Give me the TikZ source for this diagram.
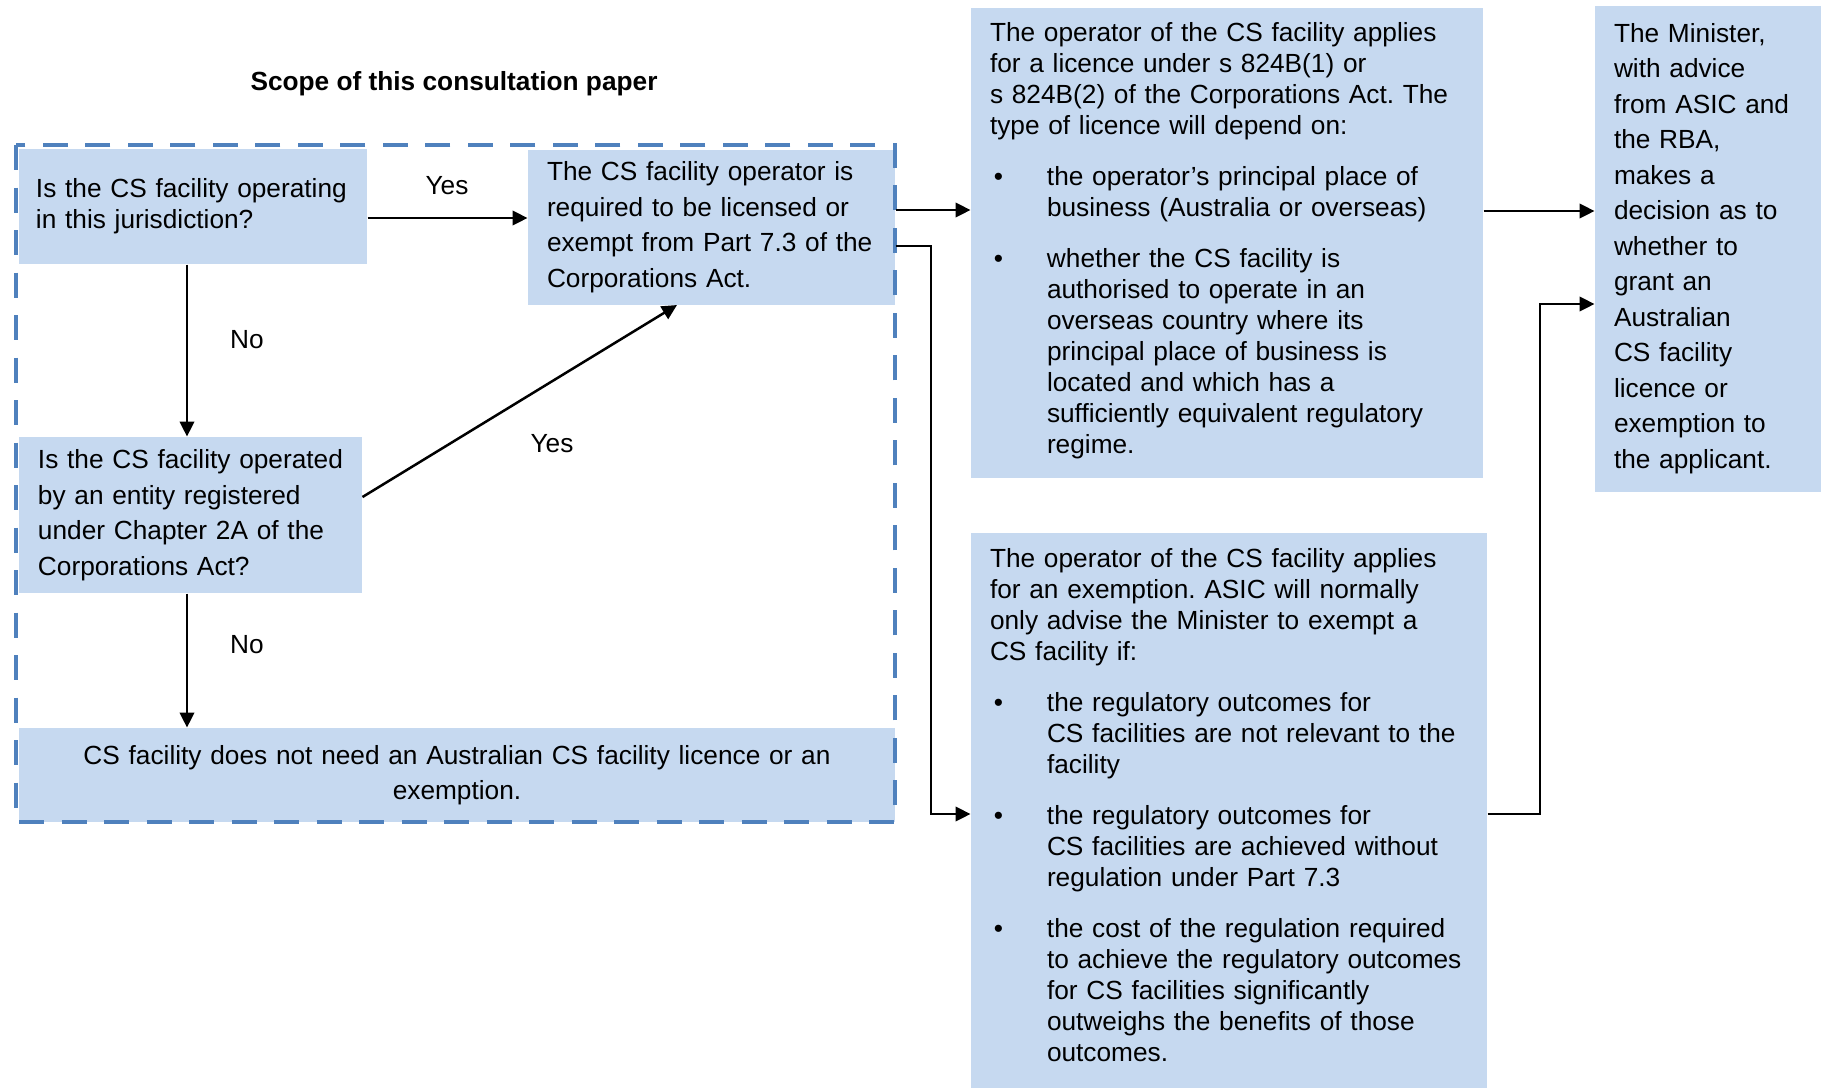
\documentclass[tikz,border=0pt]{standalone}
\usepackage{fontspec}
\setmainfont{Liberation Sans}
\usetikzlibrary{arrows.meta}

\definecolor{boxblue}{RGB}{198,217,240}
\definecolor{frameblue}{RGB}{79,129,189}

\frenchspacing
\hyphenpenalty=10000
\exhyphenpenalty=10000
\newcommand{\bul}[1]{\par\vspace{8pt}\hangindent=22.8pt\hangafter=1\noindent
  \makebox[22.8pt][l]{\hspace{1.5pt}\textbullet}{\let\\\newline #1}\par}

\tikzset{
  box/.style={fill=boxblue, inner xsep=7.6pt, inner ysep=0pt, align=left,
    font=\fontsize{10.5}{12.4}\selectfont},
  wide/.style={font=\fontsize{10.5}{14.2}\selectfont},
  arr/.style={-{Triangle[length=6pt,width=5.8pt]}, line width=1pt},
  scopeframe/.style={draw=frameblue, line width=1.3pt, dash pattern=on 10pt off 7pt},
  lbl/.style={font=\fontsize{10.5}{12.4}\selectfont}
}

\begin{document}
\begin{tikzpicture}[x=0.4pt,y=-0.4pt]
  \useasboundingbox (0,0) rectangle (1821,1088);

  \node[lbl, font=\fontsize{10.5}{12.4}\selectfont\bfseries] (title) at (454,84) {Scope of this consultation paper};

  % inside the scope
  \node[box, inner xsep=6.8pt, minimum width=139.2pt, minimum height=46pt, text width=125.6pt] (q1) at (193,206.5)
    {Is the CS facility operating\\ in this jurisdiction?};
  \node[box, wide, minimum width=146.8pt, minimum height=62pt, text width=131.6pt] (req) at (711.5,227)
    {The CS facility operator is\\ required to be licensed or\\ exempt from Part 7.3 of the\\ Corporations Act.};
  \node[box, wide, minimum width=137.2pt, minimum height=62.4pt, text width=122pt] (q2) at (190.5,515)
    {Is the CS facility operated\\ by an entity registered\\ under Chapter 2A of the\\ Corporations Act?};
  \node[box, wide, align=center, minimum width=350.4pt, minimum height=37.6pt, text width=335.2pt] (none) at (457,775)
    {CS facility does not need an Australian CS facility licence or an\\ exemption.};

  % licence / exemption / decision
  \node[box, minimum width=204.8pt, minimum height=188pt, text width=189.6pt] (lic) at (1227,243)
    {The operator of the CS facility applies\\ for a licence under s 824B(1) or\\ s 824B(2) of the Corporations Act. The\\ type of licence will depend on:
     \bul{the operator’s principal place of\\ business (Australia or overseas)}
     \bul{whether the CS facility is\\ authorised to operate in an\\ overseas country where its\\ principal place of business is\\ located and which has a\\ sufficiently equivalent regulatory\\ regime.}\kern2pt};
  \node[box, minimum width=206.4pt, minimum height=222pt, text width=191.2pt] (exm) at (1229,810.5)
    {The operator of the CS facility applies\\ for an exemption. ASIC will normally\\ only advise the Minister to exempt a\\ CS facility if:
     \bul{the regulatory outcomes for\\ CS facilities are not relevant to the\\ facility}
     \bul{the regulatory outcomes for\\ CS facilities are achieved without\\ regulation under Part 7.3}
     \bul{the cost of the regulation required\\ to achieve the regulatory outcomes\\ for CS facilities significantly\\ outweighs the benefits of those\\ outcomes.}\kern4.6pt};
  \node[box, wide, minimum width=90.4pt, minimum height=194.4pt, text width=75.2pt] (min) at (1708,248.5)
    {The Minister,\\ with advice\\ from ASIC and\\ the RBA,\\ makes a\\ decision as to\\ whether to\\ grant an\\ Australian\\ CS facility\\ licence or\\ exemption to\\ the applicant.};

  \draw[scopeframe] (16,145) rectangle (895,822);

  % connectors
  \draw[arr] (q1.east |- 0,218) -- (req.west |- 0,218);
  \draw[arr] (q1.south -| 187,0) -- (q2.north -| 187,0);
  \draw[arr] (q2.east |- 0,497) -- (req.south -| 677,0);
  \draw[arr] (q2.south -| 187,0) -- (none.north -| 187,0);
  \draw[arr] (req.east |- 0,210) -- (lic.west |- 0,210);
  \draw[arr] (req.east |- 0,246) -- (931,246) |- (exm.west |- 0,814);
  \draw[arr] (lic.east |- 0,211) -- (min.west |- 0,211);
  \draw[arr] (exm.east |- 0,814) -- (1540,814) |- (min.west |- 0,304);

  \node[lbl] (yes1) at (447,186) {Yes};
  \node[lbl] (no1) at (247,340) {No};
  \node[lbl] (yes2) at (552,444) {Yes};
  \node[lbl] (no2) at (247,645) {No};
\end{tikzpicture}
\end{document}
